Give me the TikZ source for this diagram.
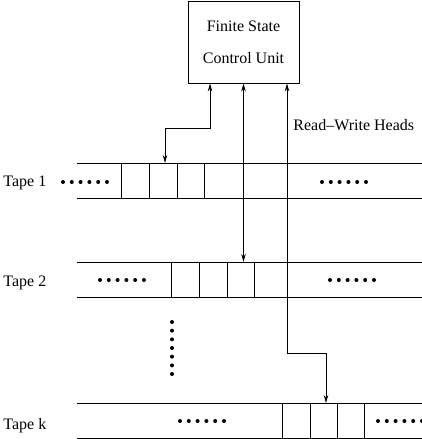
\documentclass[tikz,border=0pt]{standalone}
\usepackage{fontspec}
\setmainfont{Liberation Serif}
\usetikzlibrary{arrows.meta}
\begin{document}
\begin{tikzpicture}[x=1pt,y=-1pt, line width=0.9pt,
  head/.style={{Stealth[length=8pt,width=4.5pt]}-{Stealth[length=8pt,width=4.5pt]}},
  lbl/.style={font=\fontsize{16}{18}\selectfont, inner sep=0pt, anchor=base west}]
\useasboundingbox (0,0) rectangle (422,439);
\node[draw, minimum width=111pt, minimum height=82pt, align=center,
      font=\fontsize{16}{32}\selectfont, inner sep=0pt] (fsc) at (243.5,42) {Finite State\\Control Unit};
% tapes
\foreach \t/\b in {163/198, 262/297, 403/438}{
  \draw (77,\t) -- (422,\t) (77,\b) -- (422,\b);
}
\foreach \x in {121,149,177,204} \draw (\x,163) -- (\x,198);
\foreach \x in {171,199,227,254} \draw (\x,262) -- (\x,297);
\foreach \x in {282,310,337,364} \draw (\x,403) -- (\x,438);
% dots
\foreach \x/\y in {63/182, 322/182, 100/280, 330/280, 180/421, 378/421}{
  \foreach \i in {0,...,5} \fill (\x+8.8*\i,\y) circle (2pt);
}
\foreach \i in {0,...,6} \fill (172,322+8.67*\i) circle (2pt);
% labels
\node[lbl] (t1) at (3,186) {Tape 1};
\node[lbl] (t2) at (3,286) {Tape 2};
\node[lbl] (tk) at (3,429) {Tape k};
\node[lbl] (rw) at (293,130) {Read--Write Heads};
% heads
\coordinate (h1) at (165,163);
\coordinate (h2) at (243.5,262);
\coordinate (hk) at (326,403);
\draw[head] ([xshift=-33.5pt]fsc.south) -- ++(0,45) -| (h1);
\draw[head] (fsc.south) -- (h2);
\draw[head] ([xshift=43.5pt]fsc.south) -- ++(0,270) -| (hk);
\end{tikzpicture}
\end{document}
